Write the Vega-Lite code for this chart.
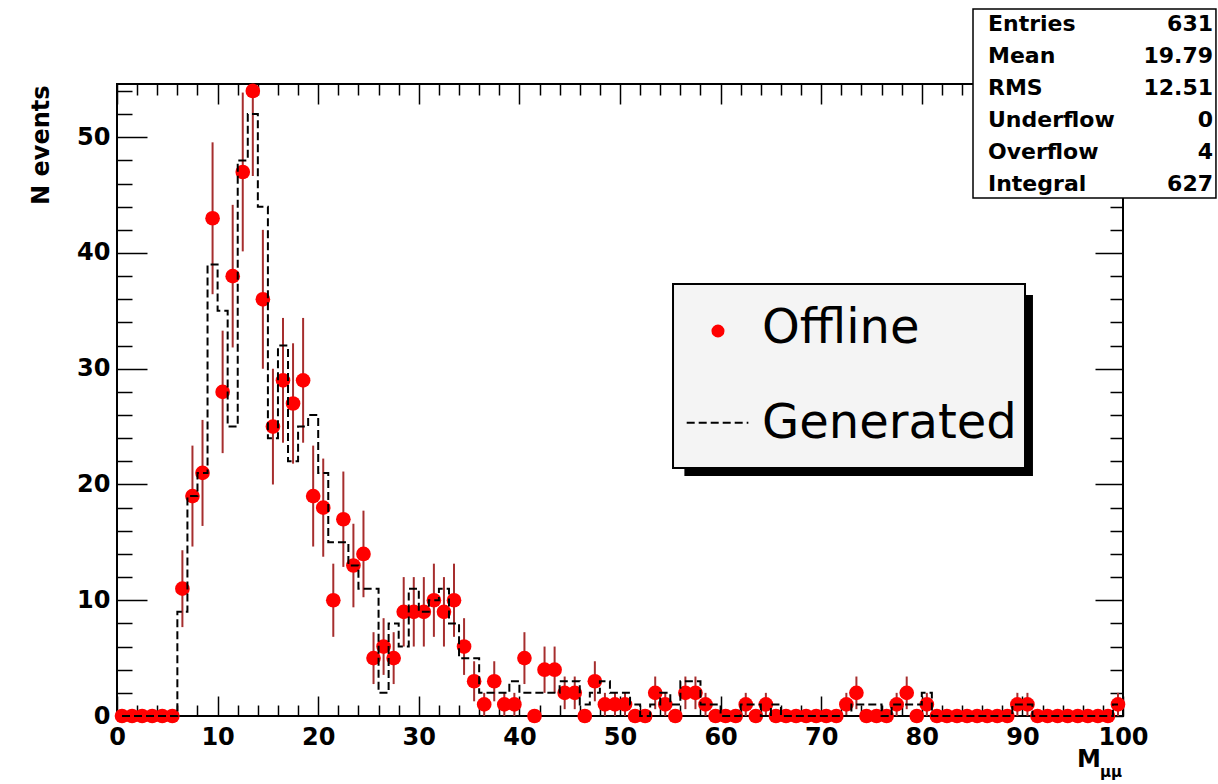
{
 "$schema": "https://vega.github.io/schema/vega-lite/v6.json",
 "width": 1006, "height": 632,
 "autosize": {"type": "none"},
 "padding": {"left": 117, "top": 84, "right": 95, "bottom": 68},
 "background": "white",
 "config": {"view": {"stroke": "black", "strokeWidth": 2}, "font": "DejaVu Sans"},
 "datasets": {
  "hist": [
   {"m":0.5,"n":0,"lo":0,"hi":0,"gen":0},{"m":1.5,"n":0,"lo":0,"hi":0,"gen":0},{"m":2.5,"n":0,"lo":0,"hi":0,"gen":0},{"m":3.5,"n":0,"lo":0,"hi":0,"gen":0},{"m":4.5,"n":0,"lo":0,"hi":0,"gen":0},{"m":5.5,"n":0,"lo":0,"hi":0,"gen":0},
   {"m":6.5,"n":11,"lo":7.68,"hi":14.32,"gen":9},{"m":7.5,"n":19,"lo":14.64,"hi":23.36,"gen":19},{"m":8.5,"n":21,"lo":16.42,"hi":25.58,"gen":21},{"m":9.5,"n":43,"lo":36.44,"hi":49.56,"gen":39},
   {"m":10.5,"n":28,"lo":22.71,"hi":33.29,"gen":35},{"m":11.5,"n":38,"lo":31.84,"hi":44.16,"gen":25},{"m":12.5,"n":47,"lo":40.14,"hi":53.86,"gen":48},{"m":13.5,"n":54,"lo":46.65,"hi":61.35,"gen":52},
   {"m":14.5,"n":36,"lo":30,"hi":42,"gen":44},{"m":15.5,"n":25,"lo":20,"hi":30,"gen":24},{"m":16.5,"n":29,"lo":23.61,"hi":34.39,"gen":32},{"m":17.5,"n":27,"lo":21.8,"hi":32.2,"gen":22},
   {"m":18.5,"n":29,"lo":23.61,"hi":34.39,"gen":25},{"m":19.5,"n":19,"lo":14.64,"hi":23.36,"gen":26},{"m":20.5,"n":18,"lo":13.76,"hi":22.24,"gen":21},{"m":21.5,"n":10,"lo":6.84,"hi":13.16,"gen":15},
   {"m":22.5,"n":17,"lo":12.88,"hi":21.12,"gen":15},{"m":23.5,"n":13,"lo":9.39,"hi":16.61,"gen":13},{"m":24.5,"n":14,"lo":10.26,"hi":17.74,"gen":11},{"m":25.5,"n":5,"lo":2.76,"hi":7.24,"gen":11},
   {"m":26.5,"n":6,"lo":3.55,"hi":8.45,"gen":2},{"m":27.5,"n":5,"lo":2.76,"hi":7.24,"gen":8},{"m":28.5,"n":9,"lo":6,"hi":12,"gen":6},{"m":29.5,"n":9,"lo":6,"hi":12,"gen":11},
   {"m":30.5,"n":9,"lo":6,"hi":12,"gen":9},{"m":31.5,"n":10,"lo":6.84,"hi":13.16,"gen":10},{"m":32.5,"n":9,"lo":6,"hi":12,"gen":11},{"m":33.5,"n":10,"lo":6.84,"hi":13.16,"gen":8},
   {"m":34.5,"n":6,"lo":3.55,"hi":8.45,"gen":5},{"m":35.5,"n":3,"lo":1.27,"hi":4.73,"gen":5},{"m":36.5,"n":1,"lo":0,"hi":2,"gen":2},{"m":37.5,"n":3,"lo":1.27,"hi":4.73,"gen":2},
   {"m":38.5,"n":1,"lo":0,"hi":2,"gen":2},{"m":39.5,"n":1,"lo":0,"hi":2,"gen":3},{"m":40.5,"n":5,"lo":2.76,"hi":7.24,"gen":2},{"m":41.5,"n":0,"lo":0,"hi":0,"gen":2},
   {"m":42.5,"n":4,"lo":2,"hi":6,"gen":2},{"m":43.5,"n":4,"lo":2,"hi":6,"gen":2},{"m":44.5,"n":2,"lo":0.59,"hi":3.41,"gen":3},{"m":45.5,"n":2,"lo":0.59,"hi":3.41,"gen":3},
   {"m":46.5,"n":0,"lo":0,"hi":0,"gen":1},{"m":47.5,"n":3,"lo":1.27,"hi":4.73,"gen":2},{"m":48.5,"n":1,"lo":0,"hi":2,"gen":3},{"m":49.5,"n":1,"lo":0,"hi":2,"gen":2},
   {"m":50.5,"n":1,"lo":0,"hi":2,"gen":2},{"m":51.5,"n":0,"lo":0,"hi":0,"gen":1},{"m":52.5,"n":0,"lo":0,"hi":0,"gen":0},{"m":53.5,"n":2,"lo":0.59,"hi":3.41,"gen":1},
   {"m":54.5,"n":1,"lo":0,"hi":2,"gen":2},{"m":55.5,"n":0,"lo":0,"hi":0,"gen":1},{"m":56.5,"n":2,"lo":0.59,"hi":3.41,"gen":3},{"m":57.5,"n":2,"lo":0.59,"hi":3.41,"gen":3},
   {"m":58.5,"n":1,"lo":0,"hi":2,"gen":1},{"m":59.5,"n":0,"lo":0,"hi":0,"gen":1},{"m":60.5,"n":0,"lo":0,"hi":0,"gen":0},{"m":61.5,"n":0,"lo":0,"hi":0,"gen":0},
   {"m":62.5,"n":1,"lo":0,"hi":2,"gen":1},{"m":63.5,"n":0,"lo":0,"hi":0,"gen":1},{"m":64.5,"n":1,"lo":0,"hi":2,"gen":0},{"m":65.5,"n":0,"lo":0,"hi":0,"gen":1},
   {"m":66.5,"n":0,"lo":0,"hi":0,"gen":0},{"m":67.5,"n":0,"lo":0,"hi":0,"gen":0},{"m":68.5,"n":0,"lo":0,"hi":0,"gen":0},{"m":69.5,"n":0,"lo":0,"hi":0,"gen":0},
   {"m":70.5,"n":0,"lo":0,"hi":0,"gen":0},{"m":71.5,"n":0,"lo":0,"hi":0,"gen":0},{"m":72.5,"n":1,"lo":0,"hi":2,"gen":0},{"m":73.5,"n":2,"lo":0.59,"hi":3.41,"gen":1},
   {"m":74.5,"n":0,"lo":0,"hi":0,"gen":1},{"m":75.5,"n":0,"lo":0,"hi":0,"gen":1},{"m":76.5,"n":0,"lo":0,"hi":0,"gen":0},{"m":77.5,"n":1,"lo":0,"hi":2,"gen":1},
   {"m":78.5,"n":2,"lo":0.59,"hi":3.41,"gen":1},{"m":79.5,"n":0,"lo":0,"hi":0,"gen":1},{"m":80.5,"n":1,"lo":0,"hi":2,"gen":2},{"m":81.5,"n":0,"lo":0,"hi":0,"gen":0},
   {"m":82.5,"n":0,"lo":0,"hi":0,"gen":0},{"m":83.5,"n":0,"lo":0,"hi":0,"gen":0},{"m":84.5,"n":0,"lo":0,"hi":0,"gen":0},{"m":85.5,"n":0,"lo":0,"hi":0,"gen":0},
   {"m":86.5,"n":0,"lo":0,"hi":0,"gen":0},{"m":87.5,"n":0,"lo":0,"hi":0,"gen":0},{"m":88.5,"n":0,"lo":0,"hi":0,"gen":0},{"m":89.5,"n":1,"lo":0,"hi":2,"gen":1},
   {"m":90.5,"n":1,"lo":0,"hi":2,"gen":1},{"m":91.5,"n":0,"lo":0,"hi":0,"gen":0},{"m":92.5,"n":0,"lo":0,"hi":0,"gen":0},{"m":93.5,"n":0,"lo":0,"hi":0,"gen":0},
   {"m":94.5,"n":0,"lo":0,"hi":0,"gen":0},{"m":95.5,"n":0,"lo":0,"hi":0,"gen":0},{"m":96.5,"n":0,"lo":0,"hi":0,"gen":0},{"m":97.5,"n":0,"lo":0,"hi":0,"gen":0},
   {"m":98.5,"n":0,"lo":0,"hi":0,"gen":0},{"m":99.5,"n":1,"lo":0,"hi":2,"gen":1}
  ],
  "stats": [
   {"label":"Entries","value":"631"},{"label":"Mean","value":"19.79"},{"label":"RMS","value":"12.51"},
   {"label":"Underflow","value":"0"},{"label":"Overflow","value":"4"},{"label":"Integral","value":"627"}
  ]
 },
 "layer": [
  {
   "layer": [
    {
     "data": {"name": "hist"},
     "mark": {"type": "rule", "color": "#a62e2e", "strokeWidth": 2, "clip": true},
     "encoding": {
      "x": {"field": "m", "type": "quantitative", "scale": {"domain": [0, 100], "nice": false, "zero": false},
       "axis": {"orient": "top", "values": [0,2,4,6,8,10,12,14,16,18,20,22,24,26,28,30,32,34,36,38,40,42,44,46,48,50,52,54,56,58,60,62,64,66,68,70,72,74,76,78,80,82,84,86,88,90,92,94,96,98,100],
        "labels": false, "domain": false, "grid": false, "title": null, "tickColor": "black", "tickWidth": 1.5,
        "tickSize": {"condition": {"test": "datum.value % 10 === 0", "value": -20}, "value": -11}}},
      "y": {"field": "lo", "type": "quantitative", "scale": {"domain": [0, 54.6], "nice": false},
       "axis": {"orient": "right", "values": [0,2,4,6,8,10,12,14,16,18,20,22,24,26,28,30,32,34,36,38,40,42,44,46,48,50,52,54],
        "labels": false, "domain": false, "grid": false, "title": null, "tickColor": "black", "tickWidth": 1.5,
        "tickSize": {"condition": {"test": "datum.value % 10 === 0", "value": -28}, "value": -13}}},
      "y2": {"field": "hi"}
     }
    },
    {
     "data": {"name": "hist"},
     "mark": {"type": "circle", "color": "#ff0000", "size": 215, "opacity": 1},
     "encoding": {
      "x": {"field": "m", "type": "quantitative", "axis": null},
      "y": {"field": "n", "type": "quantitative", "axis": null}
     }
    },
    {
     "data": {"name": "hist"},
     "mark": {"type": "line", "interpolate": "step", "color": "black", "strokeWidth": 2, "strokeDash": [8, 4]},
     "encoding": {
      "x": {"field": "m", "type": "quantitative",
       "axis": {"orient": "bottom", "values": [0,2,4,6,8,10,12,14,16,18,20,22,24,26,28,30,32,34,36,38,40,42,44,46,48,50,52,54,56,58,60,62,64,66,68,70,72,74,76,78,80,82,84,86,88,90,92,94,96,98,100],
        "labelExpr": "datum.value % 10 === 0 ? datum.label : ''", "labelFont": "DejaVu Sans", "labelFontWeight": "bold", "labelFontSize": 24, "labelColor": "black",
        "labelPadding": 29, "labelFlush": false, "labelOverlap": false, "domain": false, "grid": false, "title": null, "tickColor": "black", "tickWidth": 1.5,
        "tickSize": {"condition": {"test": "datum.value % 10 === 0", "value": -20}, "value": -11}}},
      "y": {"field": "gen", "type": "quantitative",
       "axis": {"orient": "left", "values": [0,2,4,6,8,10,12,14,16,18,20,22,24,26,28,30,32,34,36,38,40,42,44,46,48,50,52,54],
        "labelExpr": "datum.value % 10 === 0 ? datum.label : ''", "labelFont": "DejaVu Sans", "labelFontWeight": "bold", "labelFontSize": 24, "labelColor": "black",
        "labelPadding": 37, "labelOverlap": false, "domain": false, "grid": false, "tickColor": "black", "tickWidth": 1.5,
        "tickSize": {"condition": {"test": "datum.value % 10 === 0", "value": -30}, "value": -15},
        "title": "N events", "titleFont": "DejaVu Sans", "titleFontWeight": "bold", "titleFontSize": 24, "titleColor": "black",
        "titleAngle": 270, "titleAlign": "right", "titleBaseline": "alphabetic", "titleX": -69, "titleY": 1}}
     }
    },
    {
     "data": {"values": [{}]},
     "mark": {"type": "rect", "color": "black"},
     "encoding": {
      "x": {"datum": 56.4, "type": "quantitative", "axis": null}, "x2": {"datum": 91.05},
      "y": {"datum": 36.37, "type": "quantitative", "axis": null}, "y2": {"datum": 20.73}
     }
    },
    {
     "data": {"values": [{}]},
     "mark": {"type": "rect", "fill": "#f4f4f4", "stroke": "black", "strokeWidth": 2},
     "encoding": {
      "x": {"datum": 55.27, "type": "quantitative", "axis": null}, "x2": {"datum": 90.26},
      "y": {"datum": 37.32, "type": "quantitative", "axis": null}, "y2": {"datum": 21.43}
     }
    },
    {
     "data": {"values": [{}]},
     "mark": {"type": "circle", "color": "#ff0000", "size": 170, "opacity": 1},
     "encoding": {
      "x": {"datum": 59.74, "type": "quantitative", "axis": null},
      "y": {"datum": 33.26, "type": "quantitative", "axis": null}
     }
    },
    {
     "data": {"values": [{}]},
     "mark": {"type": "rule", "color": "black", "strokeWidth": 2, "strokeDash": [8, 4]},
     "encoding": {
      "x": {"datum": 56.63, "type": "quantitative", "axis": null}, "x2": {"datum": 62.76},
      "y": {"datum": 25.34, "type": "quantitative", "axis": null}
     }
    },
    {
     "data": {"values": [{}]},
     "mark": {"type": "text", "text": "Offline", "font": "DejaVu Sans", "fontSize": 48, "color": "black", "align": "left", "baseline": "alphabetic"},
     "encoding": {
      "x": {"datum": 64.12, "type": "quantitative", "axis": null},
      "y": {"datum": 32.22, "type": "quantitative", "axis": null}
     }
    },
    {
     "data": {"values": [{}]},
     "mark": {"type": "text", "text": "Generated", "font": "DejaVu Sans", "fontSize": 48, "color": "black", "align": "left", "baseline": "alphabetic"},
     "encoding": {
      "x": {"datum": 64.12, "type": "quantitative", "axis": null},
      "y": {"datum": 23.99, "type": "quantitative", "axis": null}
     }
    },
    {
     "data": {"values": [{}]},
     "mark": {"type": "rect", "fill": "white", "stroke": "black", "strokeWidth": 1.5},
     "encoding": {
      "x": {"datum": 85.09, "type": "quantitative", "axis": null}, "x2": {"datum": 109.24},
      "y": {"datum": 61.08, "type": "quantitative", "axis": null}, "y2": {"datum": 44.75}
     }
    },
    {
     "data": {"values": [{}]},
     "mark": {"type": "text", "text": "M", "font": "DejaVu Sans", "fontWeight": "bold", "fontSize": 24, "color": "black", "align": "left", "baseline": "alphabetic"},
     "encoding": {
      "x": {"datum": 95.43, "type": "quantitative", "axis": null},
      "y": {"datum": -4.41, "type": "quantitative", "axis": null}
     }
    },
    {
     "data": {"values": [{}]},
     "mark": {"type": "text", "text": "μμ", "font": "DejaVu Sans", "fontWeight": "bold", "fontSize": 15, "color": "black", "align": "left", "baseline": "alphabetic"},
     "encoding": {
      "x": {"datum": 97.71, "type": "quantitative", "axis": null},
      "y": {"datum": -5.27, "type": "quantitative", "axis": null}
     }
    }
   ],
   "resolve": {"axis": {"x": "independent", "y": "independent"}}
  },
  {
   "data": {"name": "stats"},
   "encoding": {
    "y": {"field": "label", "type": "nominal", "sort": null, "scale": {"type": "point", "range": [-53.5, 106.5], "padding": 0}, "axis": null}
   },
   "layer": [
    {
     "mark": {"type": "text", "font": "DejaVu Sans", "fontWeight": "bold", "fontSize": 22, "color": "black", "align": "left", "baseline": "alphabetic"},
     "encoding": {
      "x": {"datum": 86.58, "type": "quantitative", "axis": null},
      "text": {"field": "label"}
     }
    },
    {
     "mark": {"type": "text", "font": "DejaVu Sans", "fontWeight": "bold", "fontSize": 22, "color": "black", "align": "right", "baseline": "alphabetic"},
     "encoding": {
      "x": {"datum": 108.95, "type": "quantitative", "axis": null},
      "text": {"field": "value"}
     }
    }
   ]
  }
 ],
 "resolve": {"scale": {"y": "independent"}, "axis": {"x": "independent", "y": "independent"}}
}
